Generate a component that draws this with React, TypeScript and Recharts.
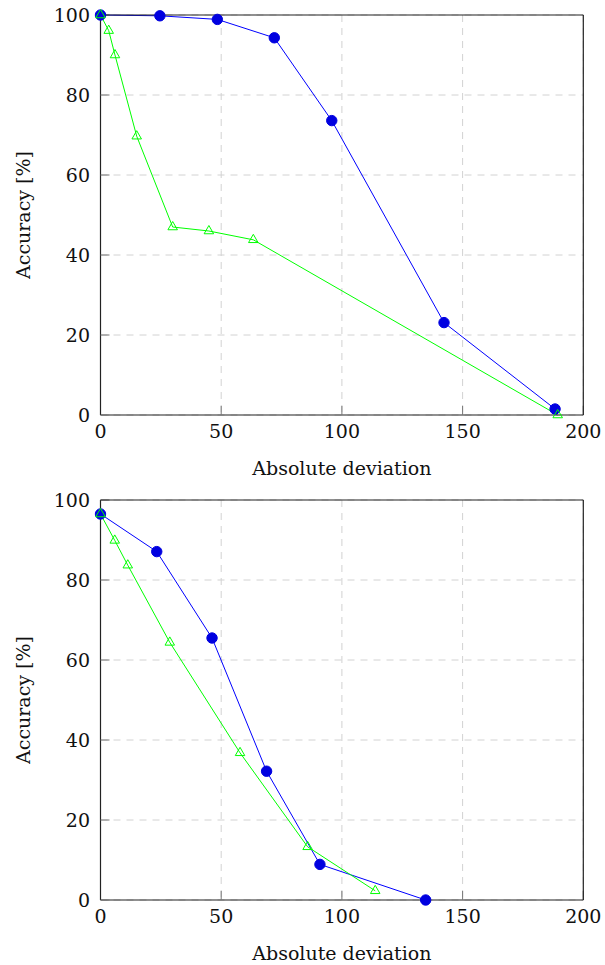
import React from 'react';
import { LineChart, Line, XAxis, YAxis, CartesianGrid } from 'recharts';

const xTicks = [0, 50, 100, 150, 200];
const yTicks = [0, 20, 40, 60, 80, 100];

// upper panel
const topBlueX = [0, 24.6, 48.4, 72, 95.8, 142.3, 188.3];
const topBlueY = [100, 99.8, 98.9, 94.3, 73.6, 23.1, 1.5];
const topGreenX = [0, 3.4, 6, 15, 29.9, 44.9, 63.3, 189.4];
const topGreenY = [100, 96.1, 90, 69.7, 47, 46, 43.8, 0];

// lower panel
const botBlueX = [0, 23.3, 46.2, 68.8, 90.9, 134.7];
const botBlueY = [96.5, 87.1, 65.5, 32.2, 8.9, 0];
const botGreenX = [0, 5.9, 11.3, 28.7, 57.8, 85.8, 113.8];
const botGreenY = [96.5, 89.9, 83.7, 64.4, 36.8, 13.3, 2.3];

const zip = (xs: number[], ys: number[]) => xs.map((x, i) => ({ x, y: ys[i] }));

const BLUE = '#0000ff';
const GREEN = '#00ff00';
const FONT = 'DejaVu Serif';
const FRAME = { stroke: '#222', strokeWidth: 1.2 };
const TICK = { stroke: '#777', strokeWidth: 1 };
const tickStyle = { fill: '#111', fontSize: 19, fontFamily: FONT };

const Triangle = (props: any) => {
  const { cx, cy, index } = props;
  if (cx == null || cy == null) return <g key={index} />;
  const r = 5.5;
  const h = r * Math.cos(Math.PI / 6);
  return (
    <polygon
      key={index}
      points={`${cx},${cy - r} ${cx - h},${cy + r / 2} ${cx + h},${cy + r / 2}`}
      fill="none"
      stroke={GREEN}
      strokeWidth={1}
    />
  );
};

type Pt = { x: number; y: number };

const Panel = ({ blue, green }: { blue: Pt[]; green: Pt[] }) => (
  <LineChart width={605} height={480} margin={{ top: 15, right: 21.7, bottom: 3, left: 40.5 }}>
    <CartesianGrid stroke="#d2d2d2" strokeDasharray="7 6" />
    <XAxis
      dataKey="x"
      type="number"
      domain={[0, 200]}
      ticks={xTicks}
      height={62}
      tickSize={-9}
      tickMargin={19}
      axisLine={FRAME}
      tickLine={TICK}
      tick={tickStyle}
      label={{ value: 'Absolute deviation', position: 'insideBottom', offset: 2.5, fill: '#111', fontSize: 19, fontFamily: FONT }}
    />
    <YAxis
      type="number"
      domain={[0, 100]}
      ticks={yTicks}
      width={60}
      tickSize={-9}
      tickMargin={19.5}
      axisLine={FRAME}
      tickLine={TICK}
      tick={tickStyle}
      label={{ value: 'Accuracy [%]', angle: -90, position: 'insideLeft', offset: -17, fill: '#111', fontSize: 19, fontFamily: FONT, style: { textAnchor: 'middle' } }}
    />
    <XAxis xAxisId="top" orientation="top" type="number" domain={[0, 200]} ticks={xTicks} mirror height={1} tick={false} tickSize={9} axisLine={FRAME} tickLine={TICK} />
    <YAxis yAxisId="right" orientation="right" type="number" domain={[0, 100]} ticks={yTicks} mirror width={1} tick={false} tickSize={9} axisLine={FRAME} tickLine={TICK} />
    <Line
      data={blue}
      dataKey="y"
      stroke={BLUE}
      strokeWidth={1}
      dot={{ r: 5.2, fill: '#0000e0', stroke: '#0000e0', strokeWidth: 1 }}
      isAnimationActive={false}
    />
    <Line data={green} dataKey="y" stroke={GREEN} strokeWidth={1} dot={Triangle} isAnimationActive={false} />
  </LineChart>
);

export default function App() {
  return (
    <div style={{ position: 'absolute', left: 0, top: 0, width: 605, height: 965, background: '#fff' }}>
      <div style={{ position: 'absolute', left: 0, top: 0 }}>
        <Panel blue={zip(topBlueX, topBlueY)} green={zip(topGreenX, topGreenY)} />
      </div>
      <div style={{ position: 'absolute', left: 0, top: 485 }}>
        <Panel blue={zip(botBlueX, botBlueY)} green={zip(botGreenX, botGreenY)} />
      </div>
    </div>
  );
}
